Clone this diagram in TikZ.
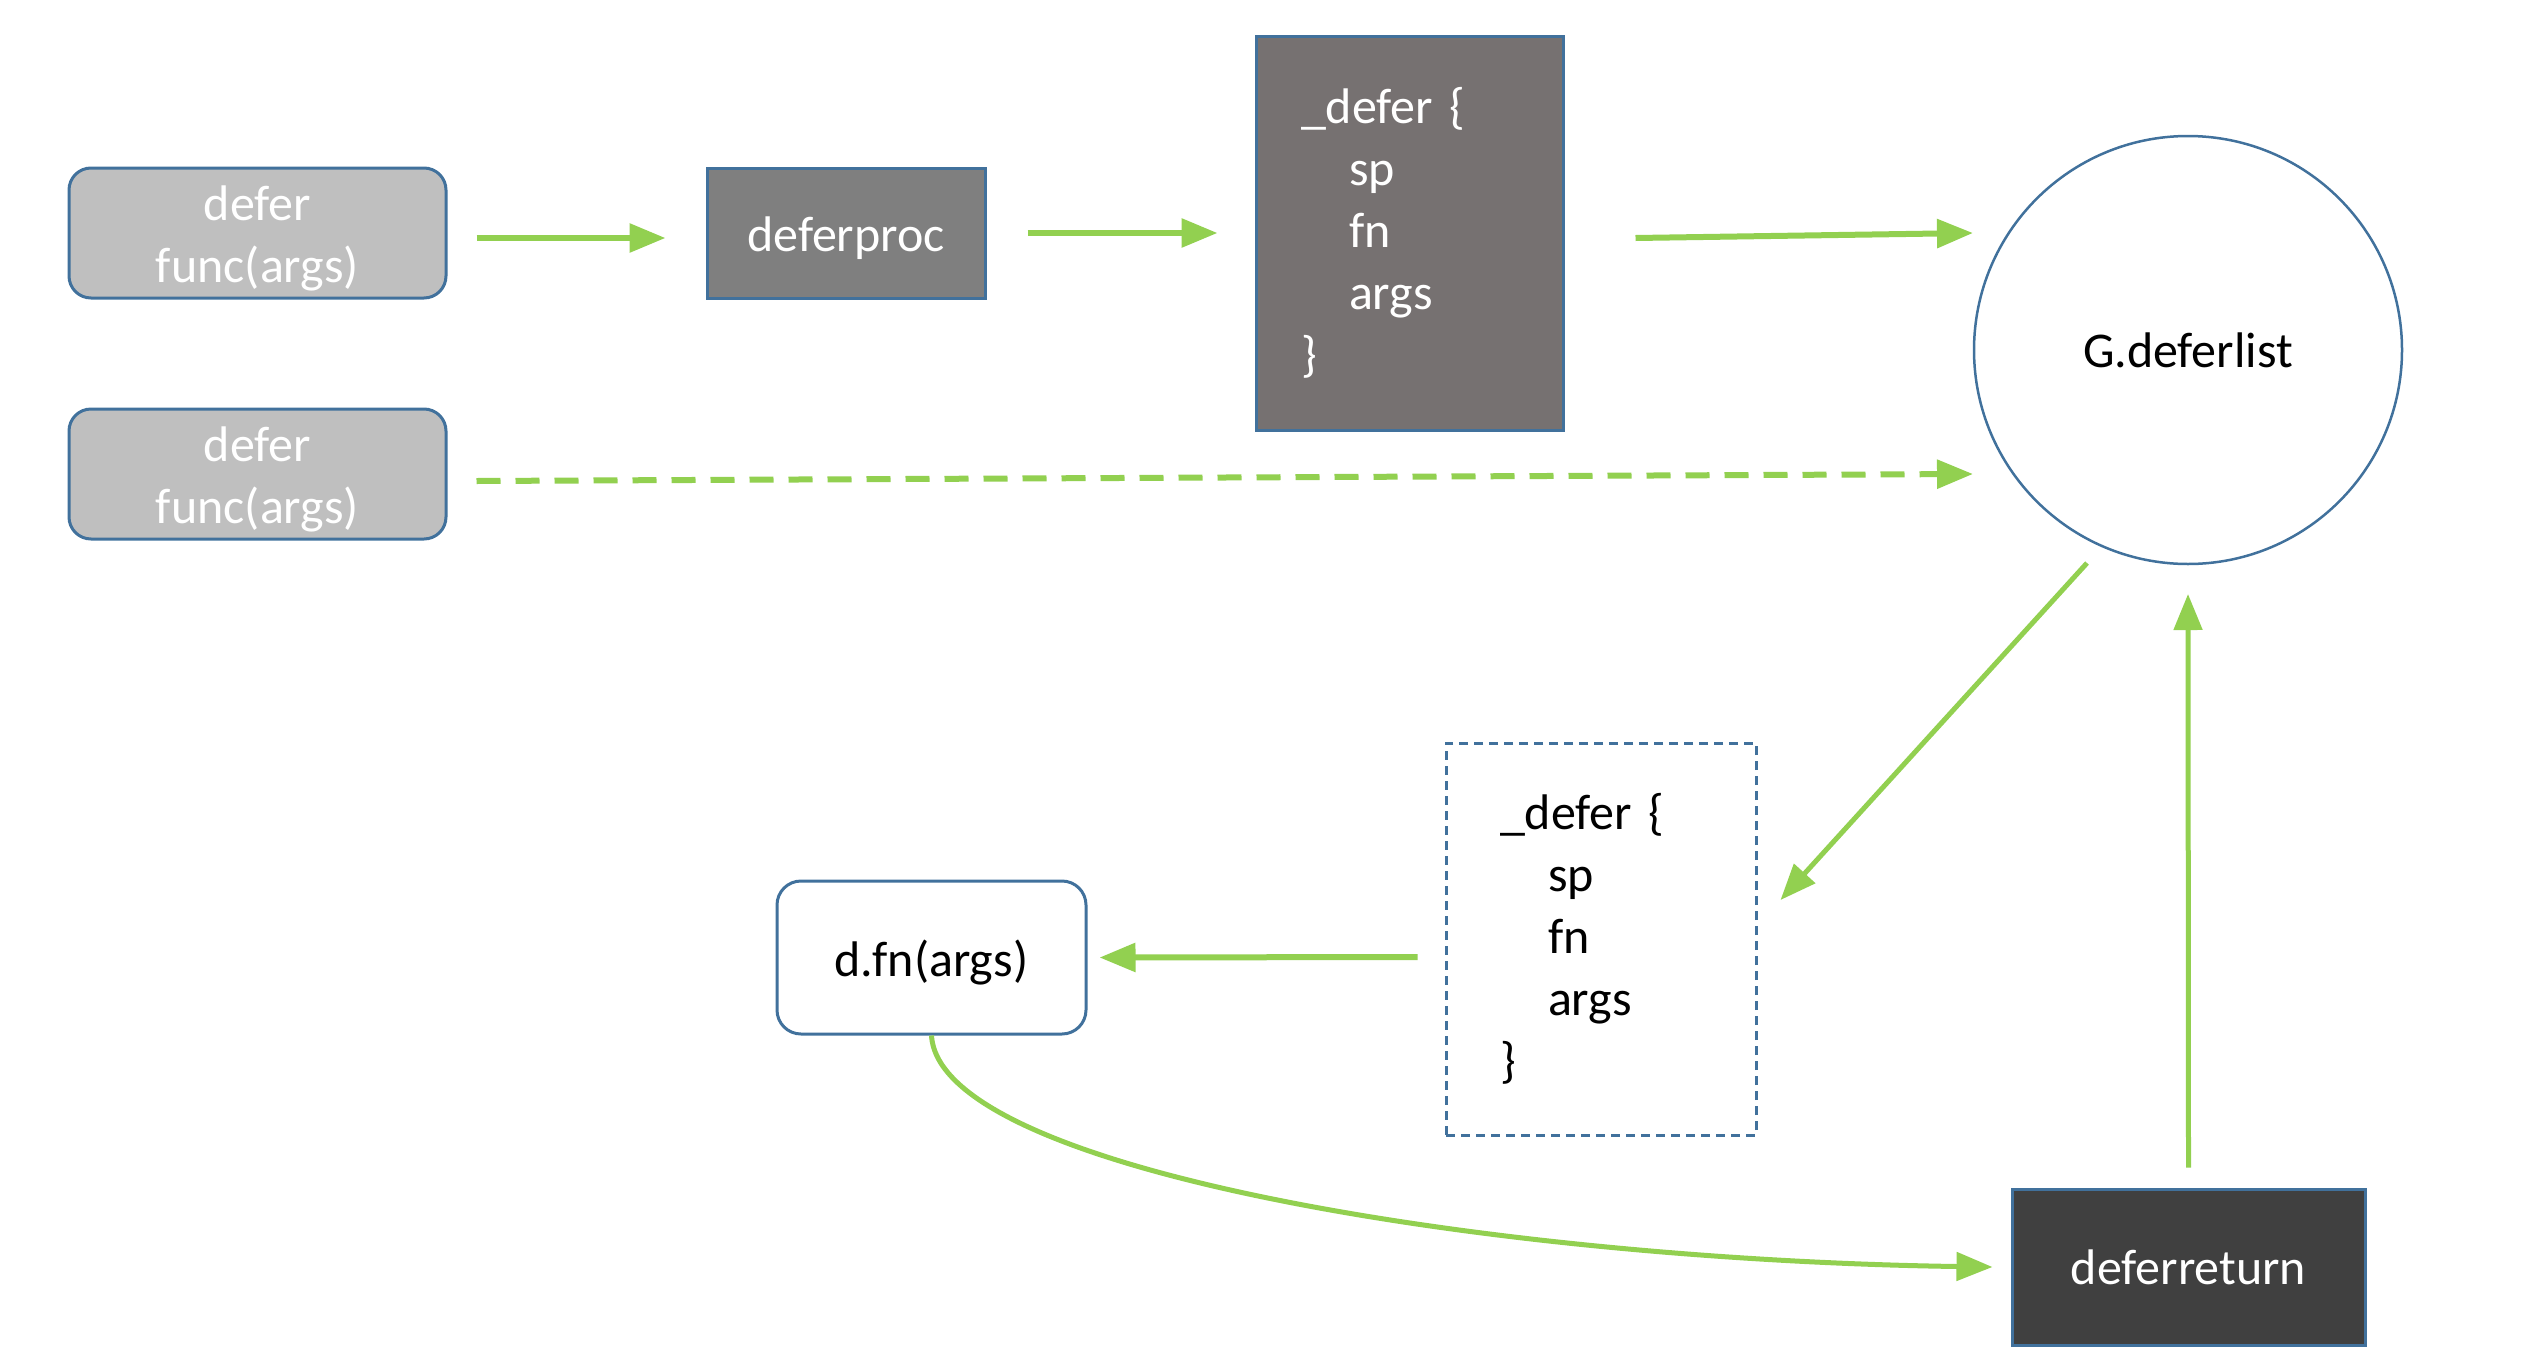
\documentclass[tikz,border=0pt]{standalone}
\usepackage{fontspec}
\setmainfont{Carlito}
\usetikzlibrary{arrows.meta,calc}
\definecolor{grn}{HTML}{92D050}
\definecolor{bdr}{HTML}{41719C}
\definecolor{lgrey}{HTML}{BFBFBF}
\definecolor{mgrey}{HTML}{7F7F7F}
\definecolor{wgrey}{HTML}{767171}
\definecolor{dgrey}{HTML}{404040}
\newcommand{\lowerstrut}{\rule{0pt}{46pt}}
\begin{document}
\begin{tikzpicture}[x=1pt,y=-1pt,
  base/.style={font=\fontsize{50}{62}\selectfont, inner sep=0pt, line width=3pt, draw=bdr},
  lbox/.style={base, rounded corners=22pt, fill=lgrey, text=white, minimum width=377pt, minimum height=130pt, align=center},
  procbox/.style={base, fill=mgrey, text=white, minimum width=278pt, minimum height=130pt},
  codebox/.style={base, fill=wgrey, text=white, minimum height=394pt, inner xsep=45pt, text width=217pt, align=left},
  dashbox/.style={base, dash pattern=on 9pt off 6pt, fill=white, text=black, minimum height=392pt, inner xsep=54pt, text width=202pt, align=left},
  listnode/.style={base, circle, line width=2.5pt, text=black, minimum size=428pt},
  callbox/.style={base, rounded corners=24pt, fill=white, text=black, minimum width=309pt, minimum height=153pt},
  retbox/.style={base, fill=dgrey, text=white, minimum width=353pt, minimum height=156pt},
  arr/.style={draw=grn, line width=6pt, -{Triangle[length=36pt,width=28pt]}},
  darr/.style={arr, dash pattern=on 24pt off 15pt},
  thinarr/.style={arr, line width=5pt}
]
\useasboundingbox (0,0) rectangle (2538,1368);

\node[lbox] (b1) at (257.5,233) {\lowerstrut defer\\func(args)};
\node[lbox] (b2) at (257.5,474) {\lowerstrut defer\\func(args)};
\node[procbox] (dp) at (846,233) {\lowerstrut deferproc};
\node[codebox] (dk) at (1409.5,233) {\_defer \{\\\hspace*{48pt}sp\\\hspace*{48pt}fn\\\hspace*{48pt}args\\\}};
\node[listnode] (gl) at (2188,350) {G.deferlist};
\node[dashbox] (ds) at (1601,939) {\_defer \{\\\hspace*{48pt}sp\\\hspace*{48pt}fn\\\hspace*{48pt}args\\\}};
\node[callbox] (df) at (931.5,957.5) {\lowerstrut d.fn(args)};
\node[retbox] (dr) at (2188.5,1267) {deferreturn};

\draw[arr] ($(b1.east)+(29,5)$) -- ($(dp.west)+(-40,5)$);
\draw[arr] ($(dp.east)+(41,0)$) -- ($(dk.west)+(-37,0)$);
\draw[arr] ($(dk.east)+(71,5)$) -- ($(gl.center)+(-215,-117)$);
\draw[darr] ($(b2.east)+(29,7)$) -- ($(gl.center)+(-215,124)$);
\draw[thinarr] ($(gl.center)+(-101,213)$) -- ($(ds.east)+(23,-39)$);
\draw[arr] ($(ds.west)+(-27,18)$) -- ($(df.east)+(12,0)$);
\draw[thinarr] (df.south) .. controls ($(df.south)+(8,136)$) and ($(dr.west)+(-512,-7)$) .. ($(dr.west)+(-18,0)$);
\draw[thinarr] ($(dr.north)+(0,-20)$) -- ($(gl.center)+(0,244)$);
\end{tikzpicture}
\end{document}
